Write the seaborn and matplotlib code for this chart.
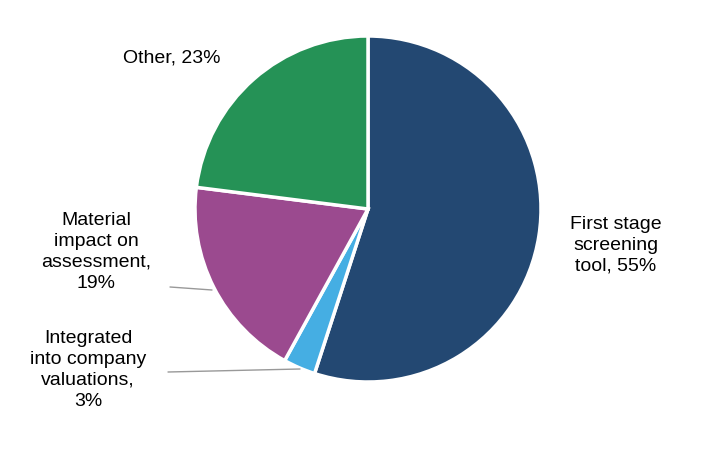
import matplotlib
matplotlib.use("Agg")
import matplotlib.pyplot as plt
import seaborn as sns
from matplotlib.lines import Line2D

sns.set_style("white")
plt.rcParams['font.family'] = ['Liberation Sans', 'DejaVu Sans']

categories = ["First stage screening tool", "Integrated into company valuations",
              "Material impact on assessment", "Other"]
values = [55, 3, 19, 23]
labels = ["First stage\nscreening\ntool, 55%", "Integrated\ninto company\nvaluations,\n3%",
          "Material\nimpact on\nassessment,\n19%", "Other, 23%"]
colors = ["#234872", "#45aee3", "#9b4a8f", "#259256"]

W, H = 726, 468
fig = plt.figure(figsize=(W/100, H/100), dpi=100)
cx, cy, r = 368, 209, 173
ax = fig.add_axes([(cx-r)/W, 1-(cy+r)/H, 2*r/W, 2*r/H])
ax.pie(values, colors=colors, startangle=90, counterclock=False, radius=1,
       wedgeprops=dict(edgecolor="white", linewidth=2.5))
ax.set_xlim(-1, 1)
ax.set_ylim(-1, 1)
ax.set_aspect("equal")
ax.axis("off")

def ft(x, y, s, ha="center"):
    fig.text(x/W, 1-y/H, s, ha=ha, va="center", fontsize=14, linespacing=1.3, color="black")

ft(616, 245, labels[0])
ft(88, 370, labels[1])
ft(96, 252, labels[2])
ft(172, 58, labels[3])

for (x0, y0, x1, y1) in [(170, 287, 212, 290), (168, 372, 300, 369)]:
    fig.add_artist(Line2D([x0/W, x1/W], [1-y0/H, 1-y1/H], color="#999999", lw=1))

fig.savefig("out.png", dpi=100)
